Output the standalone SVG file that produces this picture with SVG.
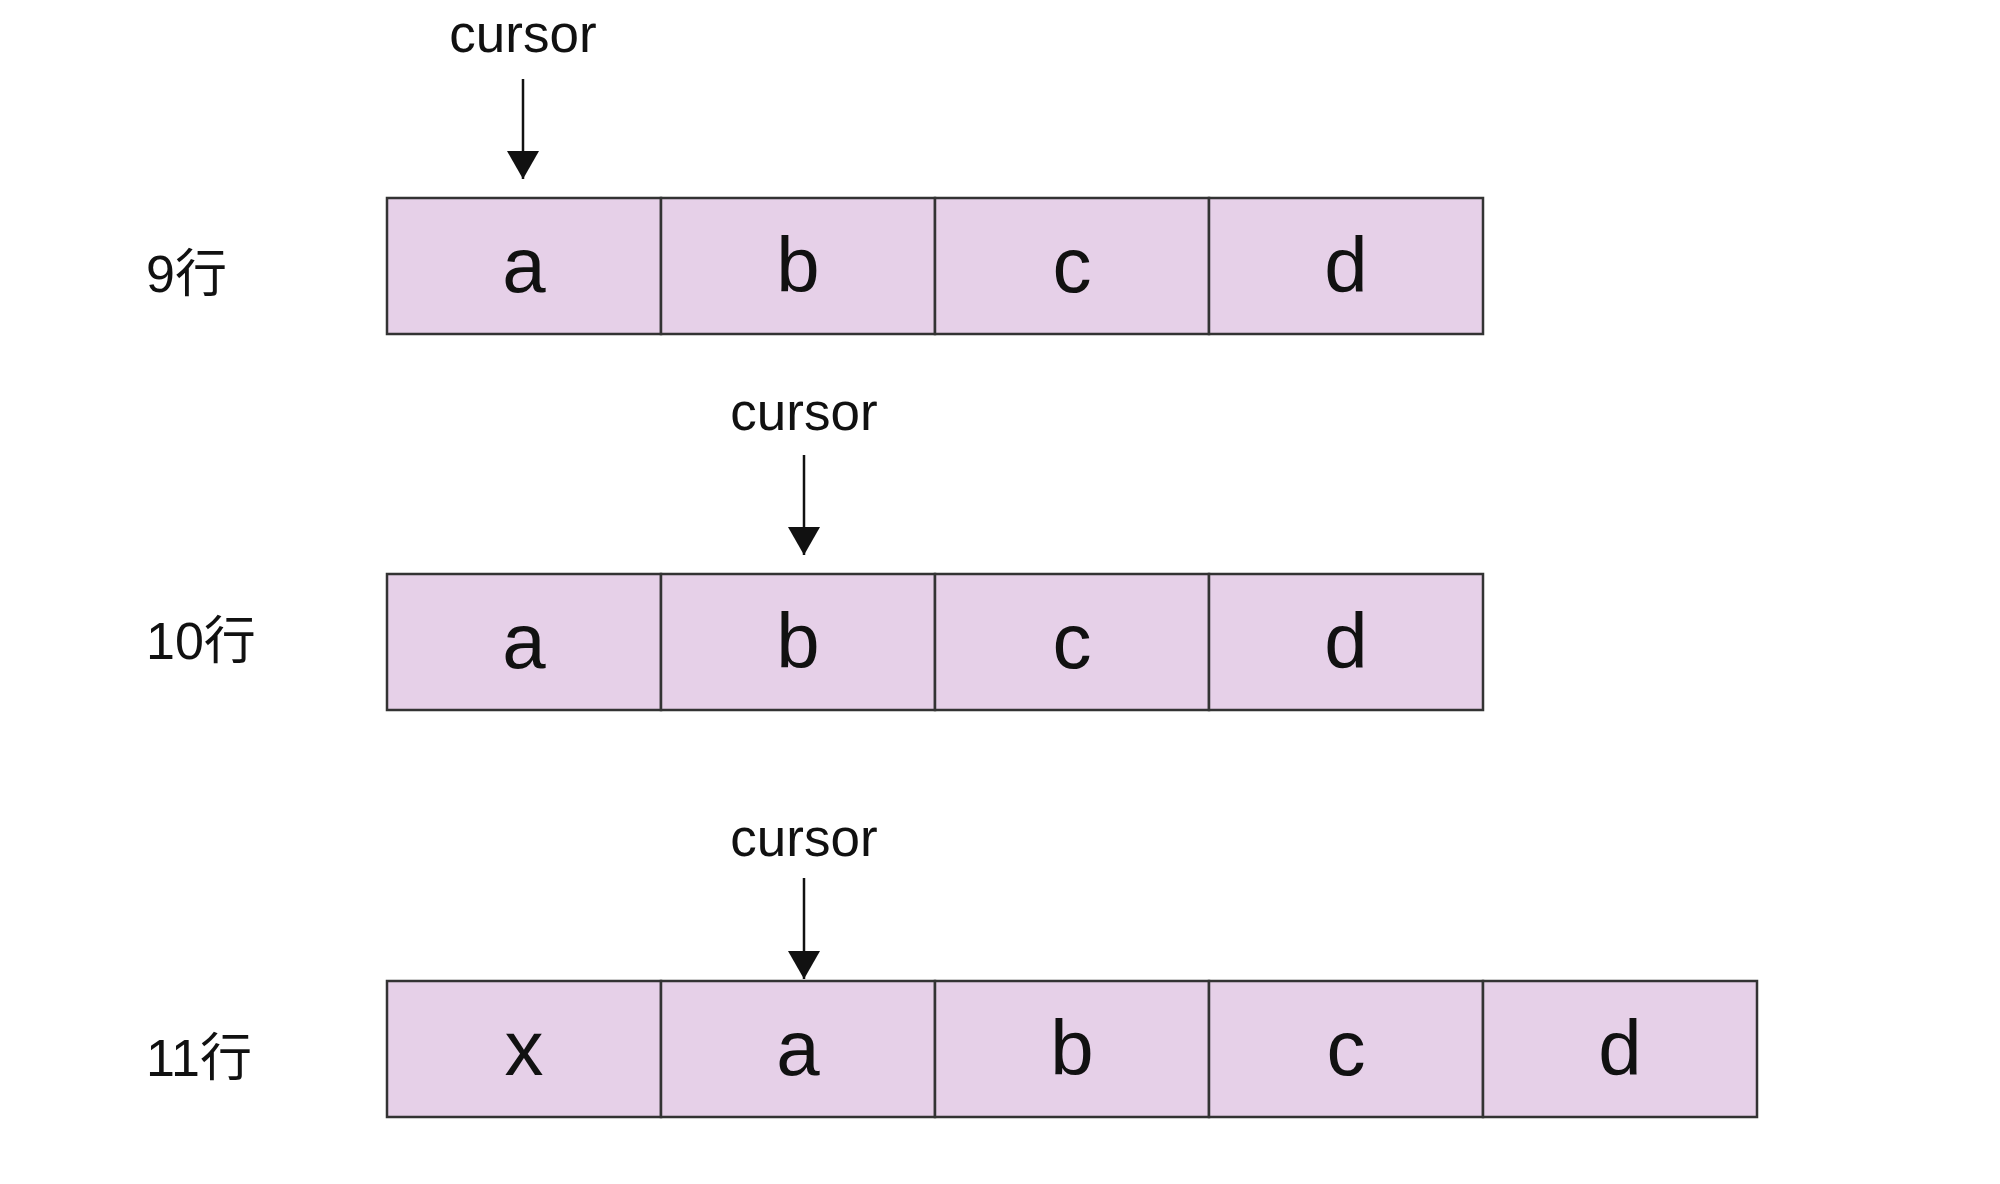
<svg xmlns="http://www.w3.org/2000/svg" width="2000" height="1184" viewBox="0 0 2000 1184">
<defs>
<style>
.cell{fill:#e6d0e8;stroke:#333;stroke-width:2.5}
.ch{font-family:"Liberation Sans",Arial,sans-serif;font-size:78px;fill:#111;text-anchor:middle}
.cur{font-family:"Liberation Sans",Arial,sans-serif;font-size:53px;fill:#111;text-anchor:middle}
.lbl{font-family:"Liberation Sans","Noto Sans CJK SC",sans-serif;font-size:52px;fill:#111}
.arr{stroke:#111;stroke-width:2.5;fill:none}
</style>
<marker id="ah" markerUnits="userSpaceOnUse" viewBox="0 0 28 32" refX="28" refY="16" markerWidth="28" markerHeight="32" orient="auto">
<path d="M0,0 L28,16 L0,32 Z" fill="#111"/>
</marker>
</defs>
<rect width="2000" height="1184" fill="#fff"/>

<g id="row9">
<text class="lbl" x="146" y="292">9行</text>
<g id="r9c1"><rect class="cell" x="387" y="198" width="274" height="136"/><text class="ch" x="524" y="292">a</text></g>
<g id="r9c2"><rect class="cell" x="661" y="198" width="274" height="136"/><text class="ch" x="798" y="292">b</text></g>
<g id="r9c3"><rect class="cell" x="935" y="198" width="274" height="136"/><text class="ch" x="1072" y="292">c</text></g>
<g id="r9c4"><rect class="cell" x="1209" y="198" width="274" height="136"/><text class="ch" x="1346" y="292">d</text></g>
<text id="cur9" class="cur" x="523" y="52">cursor</text>
</g>

<g id="row10">
<text class="lbl" x="146" y="659">10行</text>
<g id="r10c1"><rect class="cell" x="387" y="574" width="274" height="136"/><text class="ch" x="524" y="668">a</text></g>
<g id="r10c2"><rect class="cell" x="661" y="574" width="274" height="136"/><text class="ch" x="798" y="668">b</text></g>
<g id="r10c3"><rect class="cell" x="935" y="574" width="274" height="136"/><text class="ch" x="1072" y="668">c</text></g>
<g id="r10c4"><rect class="cell" x="1209" y="574" width="274" height="136"/><text class="ch" x="1346" y="668">d</text></g>
<text id="cur10" class="cur" x="804" y="430">cursor</text>
</g>

<g id="row11">
<text class="lbl" x="146" y="1076">11行</text>
<g id="r11c1"><rect class="cell" x="387" y="981" width="274" height="136"/><text class="ch" x="524" y="1075">x</text></g>
<g id="r11c2"><rect class="cell" x="661" y="981" width="274" height="136"/><text class="ch" x="798" y="1075">a</text></g>
<g id="r11c3"><rect class="cell" x="935" y="981" width="274" height="136"/><text class="ch" x="1072" y="1075">b</text></g>
<g id="r11c4"><rect class="cell" x="1209" y="981" width="274" height="136"/><text class="ch" x="1346" y="1075">c</text></g>
<g id="r11c5"><rect class="cell" x="1483" y="981" width="274" height="136"/><text class="ch" x="1620" y="1075">d</text></g>
<text id="cur11" class="cur" x="804" y="856">cursor</text>
</g>

<g id="connectors">
<line class="arr" x1="523" y1="79" x2="523" y2="179" marker-end="url(#ah)"/>
<line class="arr" x1="804" y1="455" x2="804" y2="555" marker-end="url(#ah)"/>
<line class="arr" x1="804" y1="878" x2="804" y2="979" marker-end="url(#ah)"/>
</g>
</svg>
